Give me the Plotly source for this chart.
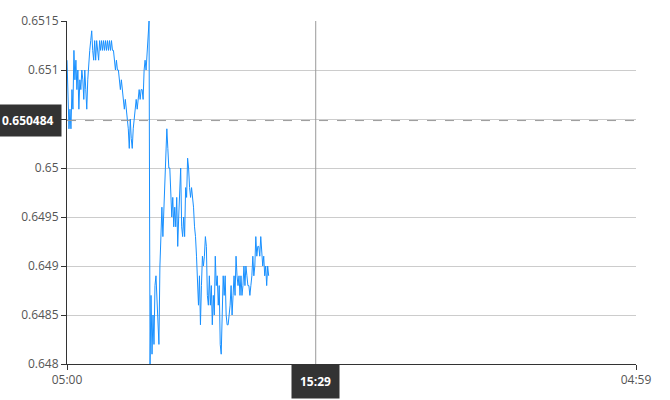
import pandas as pd
import plotly.graph_objects as go

# Price series, one reading about every 2.5 minutes starting at 05:00
prices = [
    0.6511, 0.6507, 0.6504, 0.6506, 0.6504, 0.6508, 0.6506, 0.6512,
    0.6509, 0.6511, 0.6508, 0.6510, 0.6506, 0.6509, 0.6508, 0.6510, 0.6509, 0.6507, 0.6510, 0.6508, 0.6506, 0.6509, 0.6511,
    0.6512, 0.6513, 0.6514, 0.6512,
    0.6511, 0.6513, 0.6511, 0.6513, 0.6512, 0.6511, 0.6513, 0.6512, 0.6513, 0.6512, 0.6513, 0.6512,
    0.6513, 0.6512, 0.6513, 0.6512, 0.6513, 0.6512, 0.6513, 0.6512, 0.6512,
    0.6511, 0.6510, 0.6511, 0.6510, 0.6510, 0.6509,
    0.6508, 0.6509, 0.6508, 0.6507,
    0.6506, 0.6507, 0.6506, 0.6505,
    0.6504, 0.6502, 0.6505, 0.6503, 0.6502, 0.6504, 0.6505,
    0.6506, 0.6507, 0.6506, 0.6507, 0.6508, 0.6507, 0.6508, 0.6508, 0.6507,
    0.6510, 0.6511, 0.6510, 0.6512, 0.6513,
    0.6515,
    0.6480, 0.6487, 0.6481, 0.6485, 0.6482, 0.6488, 0.6489, 0.6486, 0.6484, 0.6482,
    0.6490, 0.6493, 0.6496, 0.6493, 0.6496, 0.6498, 0.6501, 0.6504, 0.6502, 0.6500,
    0.6500, 0.6497, 0.6495, 0.6497, 0.6494, 0.6496, 0.6494, 0.6497, 0.6492, 0.6495,
    0.6497, 0.6500, 0.6494, 0.6493, 0.6495, 0.6493, 0.6498, 0.6497, 0.6501, 0.6500,
    0.6498, 0.6497, 0.6498, 0.6497, 0.6496, 0.6494, 0.6493, 0.6491, 0.6489, 0.6486,
    0.6489, 0.6484, 0.6488, 0.6491, 0.6490, 0.6491, 0.6493, 0.6492, 0.6487, 0.6486,
    0.6489, 0.6486, 0.6488, 0.6484, 0.6487, 0.6485, 0.6491, 0.6488, 0.6489, 0.6486,
    0.6488, 0.6482, 0.6481, 0.6486, 0.6489, 0.6487, 0.6489, 0.6485, 0.6484, 0.6484,
    0.6485, 0.6486, 0.6488, 0.6485, 0.6487, 0.6489, 0.6487, 0.6491, 0.6489, 0.6488,
    0.6489, 0.6487, 0.6489, 0.6487, 0.6488, 0.6490, 0.6488, 0.6490, 0.6489, 0.6488,
    0.6488, 0.6487, 0.6488, 0.6489, 0.6491, 0.6489, 0.6490, 0.6493, 0.6491, 0.6492,
    0.6492, 0.6491, 0.6493, 0.6491, 0.6490, 0.6491, 0.6489, 0.6490, 0.6488, 0.6490, 0.6489,
]
times = pd.date_range("2024-01-02 05:00", periods=len(prices), freq="150s")

y_ticks = [0.648, 0.6485, 0.649, 0.6495, 0.65, 0.6505, 0.651, 0.6515]
# the 0.6505 label sits under the crosshair price box in the reference
y_tick_text = ["0.648", "0.6485", "0.649", "0.6495", "0.65", "", "0.651", "0.6515"]
x_start = "2024-01-02 05:00"
x_end = "2024-01-03 04:59"
x_tick_text = ["05:00", "04:59"]
cross_time = "2024-01-02 15:29"
cross_time_label = "15:29"
cross_price = 0.650484
cross_price_label = "0.650484"

fig = go.Figure()
fig.add_trace(go.Scatter(
    x=times, y=prices, mode="lines",
    line=dict(color="#1890ff", width=1),
    hoverinfo="skip", showlegend=False,
))

font_family = "Open Sans, Noto Sans, sans-serif"
fig.update_layout(
    width=670, height=400,
    margin=dict(l=67, r=34, t=20, b=33),
    paper_bgcolor="white", plot_bgcolor="white",
    font=dict(family=font_family, size=12, color="#555"),
    xaxis=dict(
        range=[x_start, x_end],
        tickvals=[x_start, x_end], ticktext=x_tick_text,
        showgrid=False, zeroline=False,
        showline=True, linecolor="#333", linewidth=1,
        ticks="outside", ticklen=5, tickcolor="#333",
        tickfont=dict(size=12, color="#555"),
    ),
    yaxis=dict(
        range=[0.648, 0.6515],
        tickvals=y_ticks, ticktext=y_tick_text,
        showgrid=True, gridcolor="#cccccc", gridwidth=1,
        zeroline=False,
        showline=True, linecolor="#333", linewidth=1,
        ticks="outside", ticklen=5, tickcolor="#333",
        tickfont=dict(size=12, color="#555"),
    ),
    shapes=[
        dict(type="line", xref="x", yref="paper", x0=cross_time, x1=cross_time, y0=0, y1=1,
             line=dict(color="#999999", width=1)),
        dict(type="line", xref="paper", yref="y", x0=0, x1=1, y0=cross_price, y1=cross_price,
             line=dict(color="#999999", width=1, dash="dash")),
    ],
    annotations=[
        dict(xref="paper", yref="y", x=0, y=cross_price, xanchor="right", yanchor="middle",
             text="<b>" + cross_price_label + "</b>", showarrow=False, xshift=-5,
             bgcolor="#333333", borderpad=7,
             font=dict(color="white", size=12, family=font_family)),
        dict(xref="x", yref="paper", x=cross_time, y=0, xanchor="center", yanchor="top",
             text="<b>" + cross_time_label + "</b>", showarrow=False, yshift=0,
             bgcolor="#333333", borderpad=8,
             font=dict(color="white", size=12, family=font_family)),
    ],
)

fig.write_html(
    "out.html",
    config={"displayModeBar": False},
    post_script="document.body.style.margin='0';document.body.style.overflow='hidden';",
)
